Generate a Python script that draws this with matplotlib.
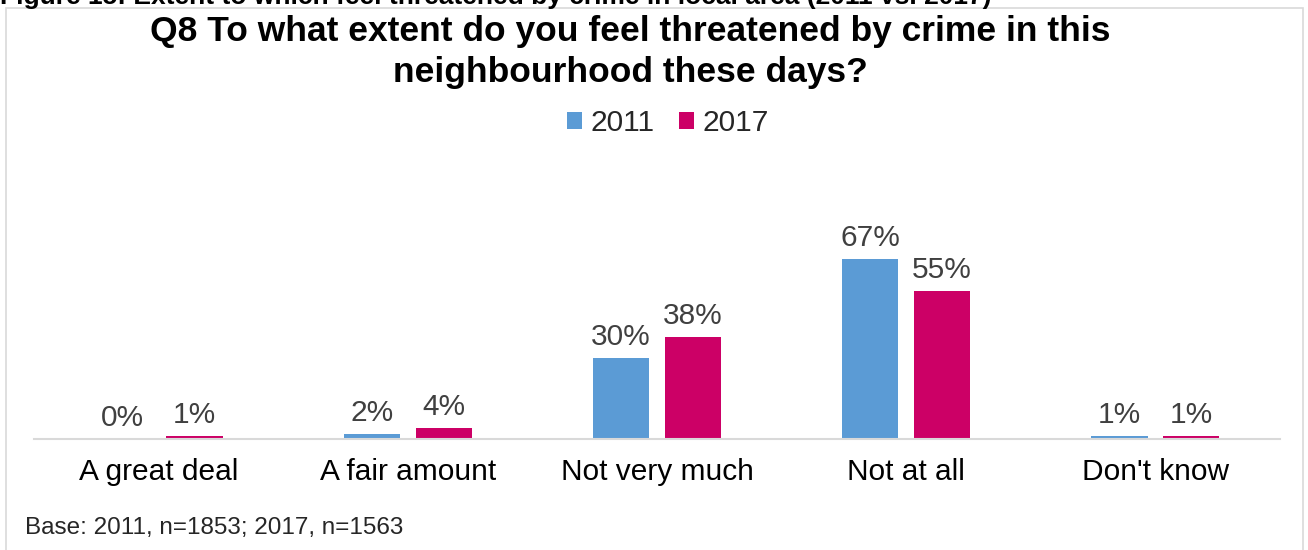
import matplotlib
matplotlib.use("Agg")
import matplotlib.pyplot as plt
from matplotlib.patches import Rectangle
import numpy as np

categories = ["A great deal", "A fair amount", "Not very much", "Not at all", "Don't know"]
series_names = ["2011", "2017"]
values_2011 = [0, 2, 30, 67, 1]
values_2017 = [1, 4, 38, 55, 1]
colors = ["#5B9BD5", "#CC0066"]

plt.rcParams['font.family'] = ['Liberation Sans', 'DejaVu Sans']

W, H = 1308, 550
fig = plt.figure(figsize=(W / 100, H / 100), dpi=100)

# outer border box
fig.patches.append(Rectangle((6 / W, -0.1), (1303 - 6) / W, 1 - 8 / H + 0.1,
                             transform=fig.transFigure, fill=False,
                             edgecolor="#D9D9D9", linewidth=1.2))

# caption at very top (clipped in the source image)
fig.text(0.0, 1 - 4 / H, "Figure 15: Extent to which feel threatened by crime in local area (2011 vs. 2017)",
         ha="left", va="baseline", fontsize=19, fontweight="bold", color="black")

ax_left, ax_right = 34, 1280
ax_bottom, ax_top = 439, 237
ax = fig.add_axes([ax_left / W, 1 - ax_bottom / H, (ax_right - ax_left) / W, (ax_bottom - ax_top) / H])

x = np.arange(len(categories))
bw = 0.225
off = 0.144
b1 = ax.bar(x - off, values_2011, bw, color=colors[0], label=series_names[0])
b2 = ax.bar(x + off, values_2017, bw, color=colors[1], label=series_names[1])

for bars, vals in ((b1, values_2011), (b2, values_2017)):
    for rect, v in zip(bars, vals):
        ax.annotate(f"{v}%", (rect.get_x() + rect.get_width() / 2, rect.get_height()),
                    xytext=(0, 5), textcoords="offset points", ha="center", va="bottom",
                    fontsize=21.5, color="#404040")

ax.set_xlim(-0.5, len(categories) - 0.5)
ax.set_ylim(0, 75)
ax.set_yticks([])
ax.set_xticks(x)
ax.set_xticklabels(categories, fontsize=21.5, color="black")
ax.tick_params(axis="x", length=0, pad=14)
for s in ["top", "right", "left"]:
    ax.spines[s].set_visible(False)
ax.spines["bottom"].set_color("#D9D9D9")
ax.spines["bottom"].set_linewidth(1.5)

fig.text(630 / W, 1 - 52 / H, "Q8 To what extent do you feel threatened by crime in this\nneighbourhood these days?",
         ha="center", va="center", fontsize=25.5, fontweight="bold", linespacing=1.3)

leg = fig.legend(handles=[b1, b2], labels=series_names, loc="center", bbox_to_anchor=(668 / W, 1 - 123 / H),
                 ncol=2, frameon=False, fontsize=21.5, handlelength=0.5, handleheight=0.5,
                 handletextpad=0.3, columnspacing=0.8)
for t in leg.get_texts():
    t.set_color("#262626")

fig.text(25 / W, 1 - 528 / H, "Base: 2011, n=1853; 2017, n=1563", ha="left", va="center",
         fontsize=17.5, color="#262626")

fig.savefig("out.png", dpi=100)
